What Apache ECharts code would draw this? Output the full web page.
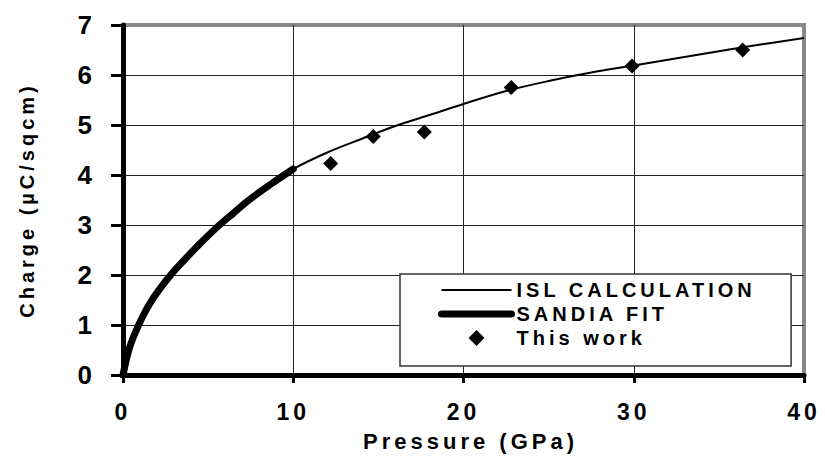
<!DOCTYPE html>
<html>
<head>
<meta charset="utf-8">
<script src="https://cdn.jsdelivr.net/npm/echarts@6/dist/echarts.min.js"></script>
<style>
  html, body { margin: 0; padding: 0; background: #fff; }
  #main { width: 825px; height: 457px; }
  #main text { letter-spacing: 4px; }
</style>
</head>
<body>
<div id="main"></div>
<script>
// Pressure (GPa) and charge (µC/sqcm)
const islPressure = [0, 0.3, 0.6, 1.2, 1.8, 2.8, 3.6, 4.5, 5.6, 6.5, 7.4, 8.7, 10, 12, 14, 16, 18, 20, 22.5, 25, 27.5, 30, 33.5, 36.5, 40];
const islCharge   = [0, 0.45, 0.75, 1.2, 1.55, 2.0, 2.3, 2.62, 2.98, 3.24, 3.5, 3.82, 4.12, 4.45, 4.72, 4.98, 5.2, 5.42, 5.68, 5.88, 6.05, 6.19, 6.39, 6.56, 6.74];

const sandiaPressure = [0, 0.3, 0.6, 1.2, 1.8, 2.8, 3.6, 4.5, 5.6, 6.5, 7.4, 8.7, 10];
const sandiaCharge   = [0, 0.45, 0.75, 1.2, 1.55, 2.0, 2.3, 2.62, 2.98, 3.24, 3.5, 3.82, 4.12];

const workPressure = [12.2, 14.7, 17.7, 22.8, 29.9, 36.4];
const workCharge   = [4.23, 4.77, 4.86, 5.75, 6.18, 6.5];

const seriesNames = ['ISL CALCULATION', 'SANDIA FIT', 'This work'];
const xTitle = 'Pressure (GPa)';
const yTitle = 'Charge (µC/sqcm)';

const zip = (a, b) => a.map((v, i) => [v, b[i]]);
const FONT = 'Liberation Sans, Arial, sans-serif';
const DIAMOND = 'path://M0,-1L1,0L0,1L-1,0Z';

const chart = echarts.init(document.getElementById('main'), null, { renderer: 'svg' });
chart.setOption({
  animation: false,
  backgroundColor: '#fff',
  grid: {
    left: 123, right: 21, top: 25, bottom: 80,
    show: true, borderColor: '#888', borderWidth: 4, backgroundColor: 'transparent'
  },
  legend: {
    orient: 'vertical',
    left: 400, top: 274,
    data: [
      { name: seriesNames[0], itemStyle: { opacity: 0 }, lineStyle: { width: 2, color: '#000' } },
      { name: seriesNames[1], itemStyle: { opacity: 0 }, lineStyle: { width: 7, color: '#000', cap: 'round' } },
      { name: seriesNames[2], icon: DIAMOND, itemStyle: { color: '#000', opacity: 1 } }
    ],
    symbolKeepAspect: true,
    itemWidth: 70, itemHeight: 16, itemGap: 4,
    padding: [6, 95, 18, 38],
    backgroundColor: '#fff',
    borderColor: '#333', borderWidth: 1.5, borderRadius: 0,
    textStyle: { fontFamily: FONT, fontSize: 20, fontWeight: 'bold', color: '#000' }
  },
  xAxis: {
    type: 'value', min: 0, max: 40, interval: 10,
    name: xTitle, nameLocation: 'middle', nameGap: 55,
    nameTextStyle: { fontFamily: FONT, fontSize: 22, fontWeight: 'bold', color: '#000', padding: [0, 0, 0, 14] },
    axisLine: { show: true, lineStyle: { color: '#000', width: 5 } },
    axisTick: { show: true, inside: false, length: 8, lineStyle: { color: '#000', width: 3 } },
    axisLabel: { fontFamily: FONT, fontSize: 23, fontWeight: 'bold', color: '#000', margin: 25 },
    splitLine: { show: true, showMinLine: false, showMaxLine: false, lineStyle: { color: '#222', width: 1 } }
  },
  yAxis: {
    type: 'value', min: 0, max: 7, interval: 1,
    name: yTitle, nameLocation: 'middle', nameGap: 86,
    nameTextStyle: { fontFamily: FONT, fontSize: 20, fontWeight: 'bold', color: '#000' },
    axisLine: { show: true, lineStyle: { color: '#000', width: 5 } },
    axisTick: { show: true, inside: false, length: 12, lineStyle: { color: '#000', width: 3 } },
    axisLabel: { fontFamily: FONT, fontSize: 26, fontWeight: 'bold', color: '#000', margin: 27 },
    splitLine: { show: true, showMinLine: false, showMaxLine: false, lineStyle: { color: '#222', width: 1 } }
  },
  series: [
    {
      name: seriesNames[0], type: 'line', data: zip(islPressure, islCharge),
      symbol: 'none', smooth: 0.35,
      lineStyle: { color: '#000', width: 2 }, itemStyle: { color: '#000' }, z: 3
    },
    {
      name: seriesNames[1], type: 'line', data: zip(sandiaPressure, sandiaCharge),
      symbol: 'none', smooth: 0.35,
      lineStyle: { color: '#000', width: 7, cap: 'round', join: 'round' }, itemStyle: { color: '#000' }, z: 4
    },
    {
      name: seriesNames[2], type: 'scatter', data: zip(workPressure, workCharge),
      symbol: 'diamond', symbolSize: 15,
      itemStyle: { color: '#000', opacity: 1 }, z: 5
    }
  ]
});
</script>
</body>
</html>
